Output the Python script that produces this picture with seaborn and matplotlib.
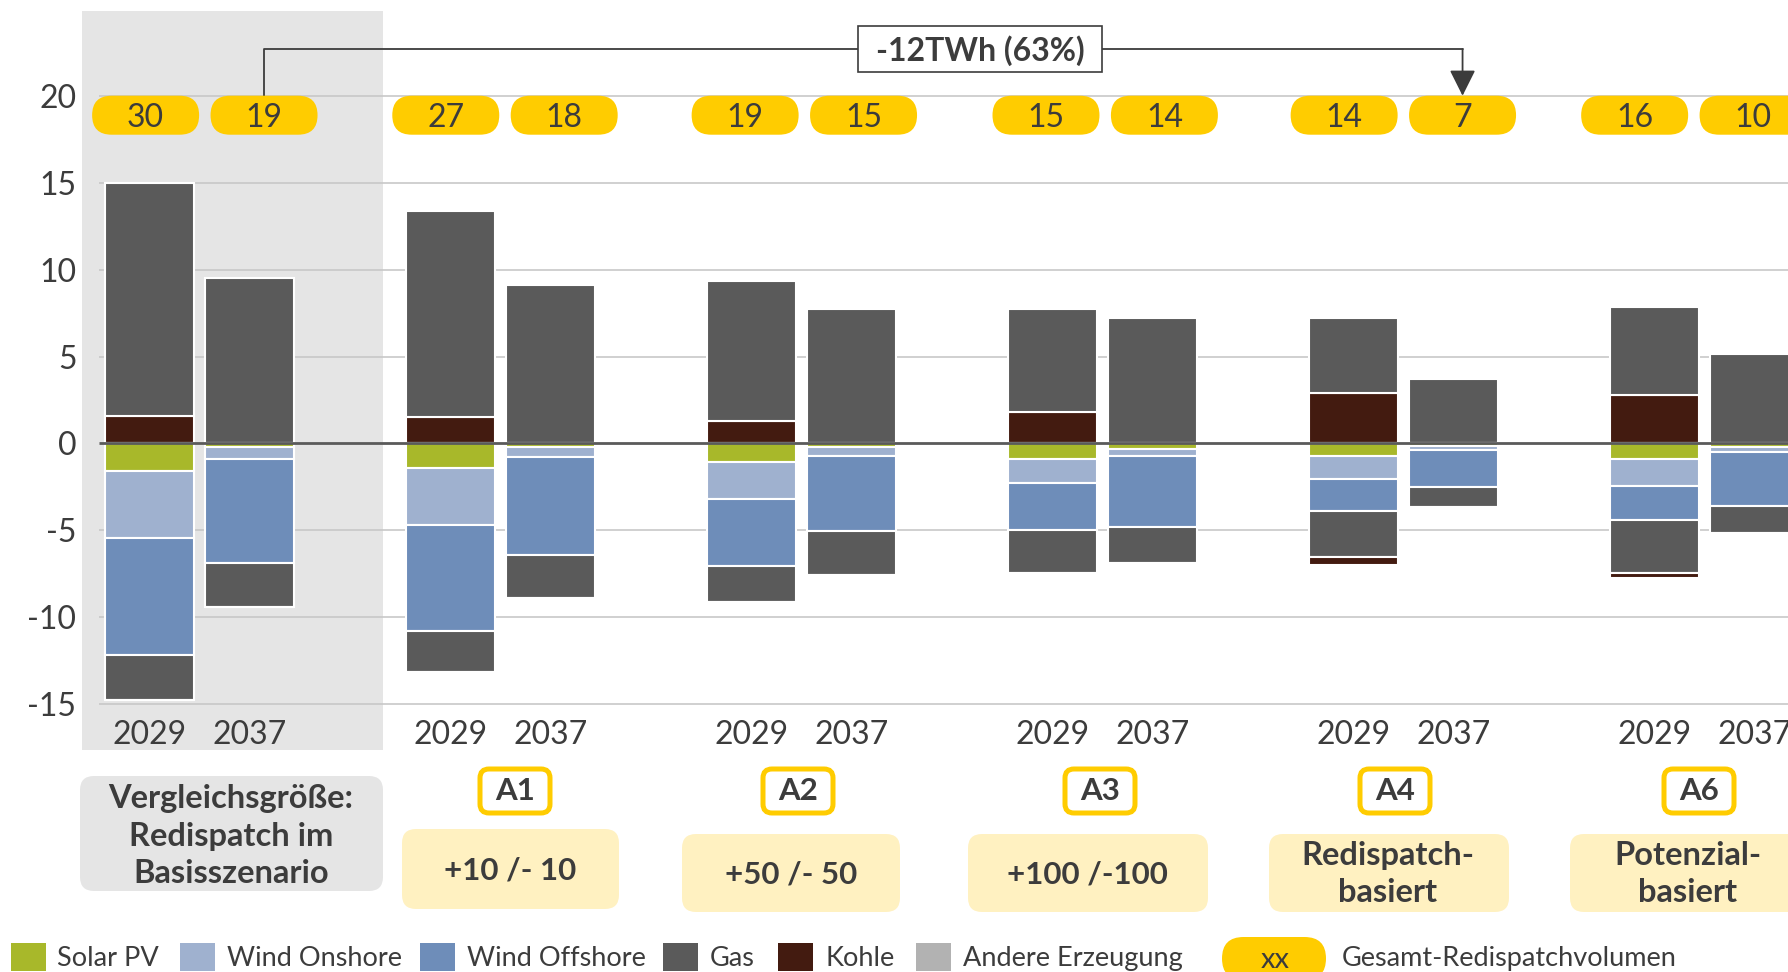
import matplotlib
matplotlib.use("Agg")
import matplotlib.pyplot as plt
import matplotlib.transforms as mtransforms
from matplotlib.patches import FancyBboxPatch, Rectangle
import numpy as np
import pandas as pd
import seaborn as sns

# =========================================================
# Daten (TWh)
# =========================================================
szenarien = ["Basis", "A1", "A2", "A3", "A4", "A6"]
jahre = ["2029", "2037"]

# Hochfahren (positiv), je Szenario 2029 / 2037
kohle_hoch = [1.6, 0.0, 1.5, 0.0, 1.3, 0.0, 1.8, 0.0, 2.9, 0.0, 2.8, 0.0]
gas_hoch = [13.4, 9.55, 11.9, 9.1, 8.05, 7.75, 5.95, 7.25, 4.3, 3.7, 5.05, 5.15]

# Abregeln (negativ)
solar_runter = [-1.6, -0.2, -1.4, -0.2, -1.05, -0.2, -0.9, -0.3, -0.7, -0.15, -0.9, -0.2]
onshore_runter = [-3.85, -0.7, -3.3, -0.6, -2.15, -0.5, -1.4, -0.4, -1.35, -0.2, -1.55, -0.3]
offshore_runter = [-6.75, -6.0, -6.1, -5.6, -3.85, -4.35, -2.7, -4.1, -1.85, -2.15, -1.95, -3.1]
gas_runter = [-2.55, -2.5, -2.35, -2.5, -2.1, -2.5, -2.45, -2.1, -2.65, -1.15, -3.05, -1.55]
kohle_runter = [0.0, 0.0, 0.0, 0.0, 0.0, 0.0, 0.0, 0.0, -0.45, 0.0, -0.3, 0.0]

# Gesamt-Redispatchvolumen (gelbe Pillen)
gesamt = [30, 19, 27, 18, 19, 15, 15, 14, 14, 7, 16, 10]

basis_text = "Vergleichsgröße:\nRedispatch im\nBasisszenario"
szenario_namen = ["A1", "A2", "A3", "A4", "A6"]
szenario_texte = ["+10 /- 10", "+50 /- 50", "+100 /-100",
                  "Redispatch-\nbasiert", "Potenzial-\nbasiert"]
differenz_text = "-12TWh (63%)"

legende_namen = ["Solar PV", "Wind Onshore", "Wind Offshore", "Gas", "Kohle",
                 "Andere Erzeugung"]
legende_gesamt = "Gesamt-Redispatchvolumen"

farben = {
    "Solar PV": "#A8B82A",
    "Wind Onshore": "#9FB1CF",
    "Wind Offshore": "#6E8DB9",
    "Gas": "#5A5A5A",
    "Kohle": "#431B10",
    "Andere Erzeugung": "#B2B2B2",
}
GELB = "#FFCC00"
HELLGELB = "#FFF1C1"
GRAU_BG = "#E5E5E5"
TEXT = "#3C3C3C"

# =========================================================
# Einstellungen
# =========================================================
sns.set_theme(style="white")
plt.rcParams["font.family"] = ["Lato", "DejaVu Sans"]
plt.rcParams["axes.unicode_minus"] = False

W, H = 1788, 972
fig = plt.figure(figsize=(W / 100, H / 100), dpi=100)
fig.patch.set_facecolor("white")
ax = fig.add_axes([82 / W, 1 - 750 / H, 1 - 82 / W, (750 - 11) / H])
ident = mtransforms.IdentityTransform()

# Balkenpositionen: 3 Einheiten pro Szenario, 1 Einheit zwischen den Jahren
pos = [3 * g + j for g in range(len(szenarien)) for j in range(len(jahre))]
df = pd.DataFrame({
    "pos": pos,
    "jahr": jahre * len(szenarien),
    "kohle_hoch": kohle_hoch,
    "gas_hoch": gas_hoch,
    "solar_runter": solar_runter,
    "onshore_runter": onshore_runter,
    "offshore_runter": offshore_runter,
    "gas_runter": gas_runter,
    "kohle_runter": kohle_runter,
})

# =========================================================
# Gestapelte Balken
# =========================================================
stapel_hoch = [("kohle_hoch", "Kohle"), ("gas_hoch", "Gas")]
stapel_runter = [("solar_runter", "Solar PV"), ("onshore_runter", "Wind Onshore"),
                 ("offshore_runter", "Wind Offshore"), ("gas_runter", "Gas"),
                 ("kohle_runter", "Kohle")]

for stapel in (stapel_hoch, stapel_runter):
    unten = np.zeros(len(df))
    for spalte, name in stapel:
        sns.barplot(data=df, x="pos", y=spalte, native_scale=True,
                    bottom=unten.copy(), color=farben[name], saturation=1,
                    width=0.886, edgecolor="white", linewidth=1.5,
                    errorbar=None, ax=ax, zorder=2)
        unten += df[spalte].to_numpy()

ax.set_xlim(-0.67, 16.33)
ax.set_ylim(-17.65, 24.9)
ax.set_xlabel("")
ax.set_ylabel("")
ax.set_xticks([])
ax.set_yticks(range(-15, 21, 5))
ax.tick_params(axis="y", length=0, labelsize=23, labelcolor=TEXT, pad=4)
for s in ax.spines.values():
    s.set_visible(False)

# Hintergrund Basisszenario, Gitterlinien, Nulllinie
ax.axvspan(-0.67, 2.33, color=GRAU_BG, lw=0, zorder=0)
ax.hlines([-15, -10, -5, 5, 10, 15, 20], -0.5, 16.33, colors="#C8C8C8",
          lw=1.2, zorder=1)
ax.hlines(0, -0.5, 16.33, colors="#5A5A5A", lw=2, zorder=3)

# Jahreslabels unter den Balken
for p, j in zip(df["pos"], df["jahr"]):
    ax.text(p, -16.8, j, ha="center", va="center", fontsize=23, color=TEXT)

# =========================================================
# Gelbe Pillen mit Gesamtvolumen
# =========================================================
PILLE_B, PILLE_H, PILLE_Y = 107, 39, 18.9
pillen_versatz = [0.054, 0.045, 0.028, 0.026, -0.003, -0.108]


def rbox(x0, y0, b, h, r, fc, ec="none", lw=0, z=4):
    """Abgerundetes Rechteck in Pixeln (Display-Koordinaten)."""
    p = FancyBboxPatch((x0, y0), b, h,
                       boxstyle=f"round,pad=0,rounding_size={r}",
                       fc=fc, ec=ec, lw=lw, transform=ident, zorder=z)
    fig.add_artist(p)


pillen_x = []
for g in range(len(szenarien)):
    for j, v in enumerate(gesamt[2 * g:2 * g + 2]):
        xp = 3 * g + 0.5 + pillen_versatz[g] + (j - 0.5) * 1.18
        pillen_x.append(xp)
        cx, cy = ax.transData.transform((xp, PILLE_Y))
        rbox(cx - PILLE_B / 2, cy - PILLE_H / 2, PILLE_B, PILLE_H, PILLE_H / 2, GELB)
        fig.text(cx, cy - 3, str(v), transform=ident, ha="center", va="center",
                 fontsize=23, color=TEXT, zorder=5)

# Klammer von "19" (Basis 2037) nach "7" (A4 2037)
pille_oben = PILLE_Y + 1.12
x_l, x_r = pillen_x[1], pillen_x[9]
ax.plot([x_l, x_l, x_r], [pille_oben, 22.7, 22.7], color=TEXT, lw=1.3,
        zorder=3, clip_on=False)
ax.annotate("", xy=(x_r, pille_oben), xytext=(x_r, 22.7),
            arrowprops=dict(arrowstyle="-|>,head_length=0.8,head_width=0.4",
                            color=TEXT, lw=1.3, shrinkA=0, shrinkB=0,
                            mutation_scale=20), zorder=3)
bx, by = ax.transData.transform((8.28, 22.7))
fig.add_artist(Rectangle((bx - 122, by - 23), 244, 46, fc="white", ec=TEXT,
                         lw=1.2, transform=ident, zorder=4))
fig.text(bx, by - 1, differenz_text, transform=ident, ha="center", va="center",
         fontsize=23, fontweight="bold", color=TEXT, zorder=5)

# =========================================================
# Szenario-Beschriftungen unter dem Diagramm (Pixel, von oben gemessen)
# =========================================================
rbox(80, H - 891, 303, 115, 14, GRAU_BG)
fig.text(231, H - 836, basis_text, transform=ident, ha="center", va="center",
         fontsize=23.5, fontweight="bold", color=TEXT, linespacing=1.37, zorder=5)

label_x = [515, 798, 1100, 1395, 1699]
box_x = [(402, 619), (682, 900), (968, 1208), (1269, 1509), (1570, 1820)]
box_y = [(829, 909), (834, 912), (834, 912), (834, 912), (834, 912)]
text_x = [510, 791, 1087, 1388, 1688]
text_groesse = [22.5, 22.5, 22.5, 23.5, 23.5]

for name, txt, lx, (x0, x1), (y0, y1), tx, fs in zip(
        szenario_namen, szenario_texte, label_x, box_x, box_y, text_x,
        text_groesse):
    rbox(lx - 35, H - 813, 70, 44, 9, "white", ec=GELB, lw=3.6)
    fig.text(lx, H - 791, name, transform=ident, ha="center", va="center",
             fontsize=22.5, fontweight="bold", color=TEXT, zorder=5)
    rbox(x0, H - y1, x1 - x0, y1 - y0, 14, HELLGELB)
    fig.text(tx, H - (y0 + y1) / 2 - 1, txt, transform=ident, ha="center",
             va="center", fontsize=fs, fontweight="bold", color=TEXT,
             linespacing=1.33, zorder=5)

# =========================================================
# Legende
# =========================================================
quadrat_x = [11, 180, 420, 663, 778, 916]
text_x0 = [57, 227, 467, 710, 825, 963]
for name, qx, tx in zip(legende_namen, quadrat_x, text_x0):
    fig.add_artist(Rectangle((qx, H - 971), 35, 28, fc=farben[name], ec="none",
                             transform=ident, zorder=4))
    fig.text(tx, H - 958, name, transform=ident, ha="left", va="center",
             fontsize=19.5, color=TEXT, zorder=5)

rbox(1222, H - 980, 104, 43, 21.5, GELB)
fig.text(1275, H - 960, "xx", transform=ident, ha="center", va="center",
         fontsize=21, color=TEXT, zorder=5)
fig.text(1342, H - 958, legende_gesamt, transform=ident, ha="left",
         va="center", fontsize=19.5, color=TEXT, zorder=5)

fig.savefig("out.png", dpi=100, facecolor="white")
